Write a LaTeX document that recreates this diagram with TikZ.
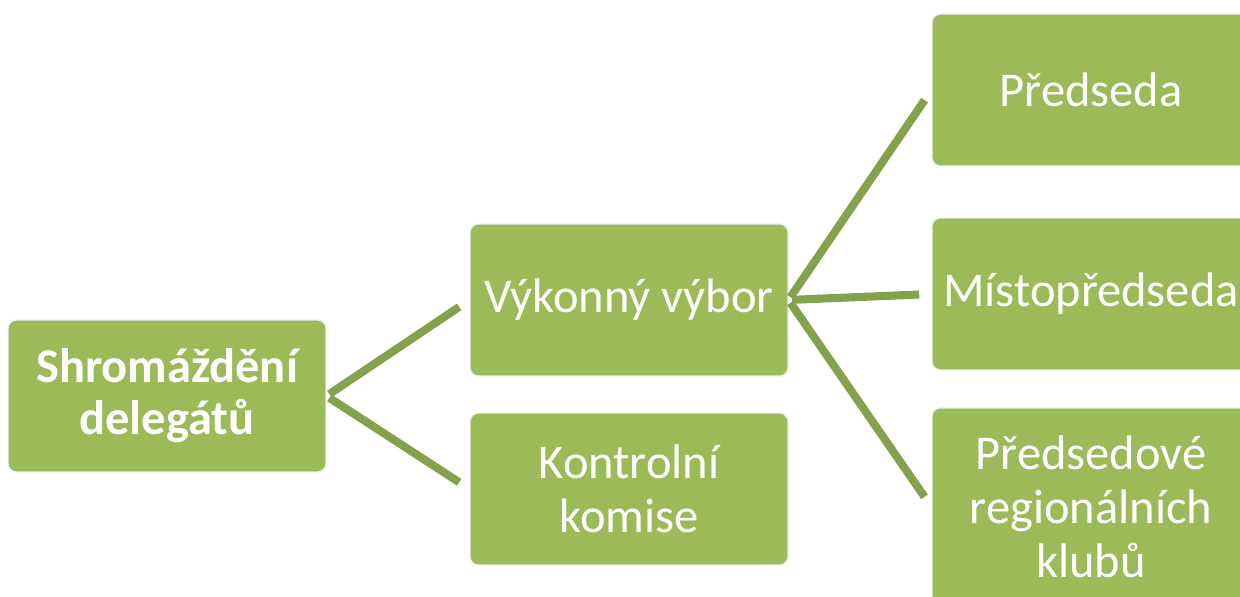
\documentclass[tikz,border=0pt]{standalone}
\usepackage{fontspec}
\setmainfont{Carlito}
\usepackage{tikz}
\usetikzlibrary{
  positioning,
  calc
}
\definecolor{boxgreen}{HTML}{9BBB59}
\definecolor{linkgreen}{HTML}{84A24C}
\tikzset{
  every org box/.style={
    fill=boxgreen, draw=gray!15, line width=0.6pt,
    rounded corners=5pt, text=white, align=center,
    minimum width=6.36cm, minimum height=3.04cm,
    font=\fontsize{27.6}{30.6}\selectfont
  },
  orgbox/.style={every org box},
  link/.style={draw=linkgreen, line width=4.6pt,
    shorten <=2pt, shorten >=7pt},
}

\begin{document}
\begin{tikzpicture}[x=0.02cm,y=0.02cm]
\useasboundingbox (0,0) rectangle (1240,597);
\node[orgbox, font=\fontsize{27.6}{29.5}\selectfont\bfseries] (sd) at (167,201) {Shromáždění\\delegátů};
\node[orgbox] (vv) at (629,297) {Výkonný výbor};
\node[orgbox] (kk) at (629,108) {Kontrolní\\komise};
\node[orgbox] (pr) at (1091,507) {Předseda};
\node[orgbox] (mp) at (1091,303) {Místopředseda};
\node[orgbox, minimum height=3.96cm] (ps) at (1091,90) {Předsedové\\regionálních\\klubů};
\foreach \child in {vv,kk}
{
  \draw[link] (sd.east) -- (\child.west);
}
\foreach \child in {pr,mp,ps}
{
  \draw[link] (vv.east) -- (\child.west);
}
\end{tikzpicture}
\end{document}
